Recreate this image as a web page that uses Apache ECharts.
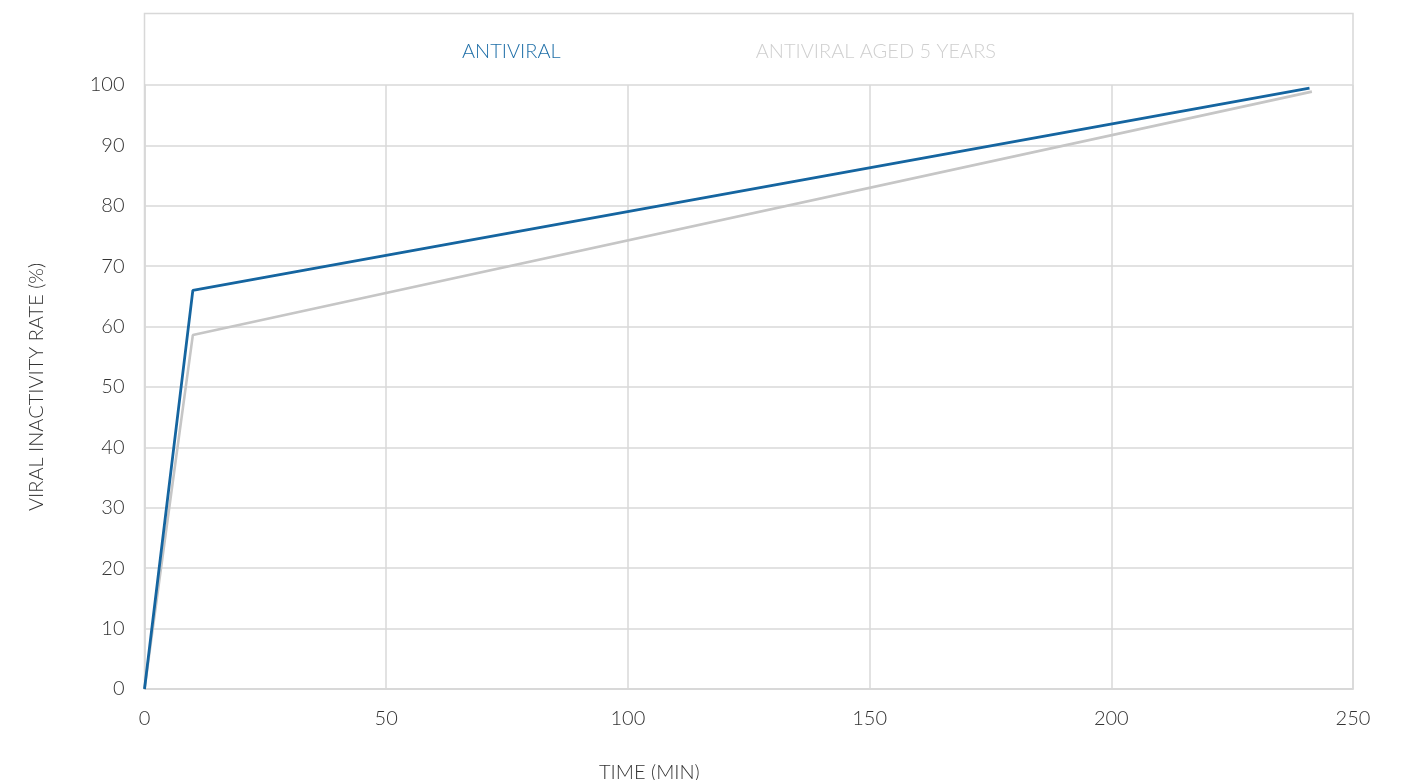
<!DOCTYPE html>
<html>
<head>
<meta charset="utf-8">
<script src="https://cdn.jsdelivr.net/npm/echarts@6/dist/echarts.min.js"></script>
<style>html,body{margin:0;padding:0;background:#fff}#c{width:1403px;height:780px}</style>
</head>
<body>
<div id="c"></div>
<script>
const seriesNames = ['ANTIVIRAL', 'ANTIVIRAL AGED 5 YEARS'];
const antiviral = [[0, 0], [10, 66], [241, 99.5]];
const antiviralAged = [[0, 0], [10, 58.6], [241.5, 98.9]];
const xTicks = [0, 50, 100, 150, 200, 250];
const yTicks = [0, 10, 20, 30, 40, 50, 60, 70, 80, 90, 100];

const FONT = 'Lato, "Noto Sans", sans-serif';
const FW = 300;
const FS = 20;
const chart = echarts.init(document.getElementById('c'));
chart.setOption({
  animation: false,
  graphic: [{
    type: 'rect', silent: true, z: -1,
    shape: {x: 144.5, y: 13.5, width: 1208.5, height: 675.5},
    style: {fill: 'none', stroke: '#d8d8d8', lineWidth: 1.5}
  }],
  title: {
    text: 'TIME (MIN)', left: 594, top: 758,
    textStyle: {fontFamily: FONT, fontSize: FS, fontWeight: FW, color: '#333'}
  },
  legend: {
    data: [
      {name: seriesNames[0], textStyle: {color: '#1f6fa8'}},
      {name: seriesNames[1], textStyle: {color: '#cfcfcf'}}
    ],
    icon: 'none', itemWidth: 0, itemGap: 190,
    left: 452, top: 37,
    textStyle: {fontFamily: FONT, fontSize: FS, fontWeight: FW}
  },
  grid: {left: 144.5, right: 50, top: 85, bottom: 91, containLabel: false},
  xAxis: {
    type: 'value', min: xTicks[0], max: xTicks[xTicks.length - 1], interval: 50,
    axisLine: {show: true, lineStyle: {color: '#d8d8d8', width: 1.5}},
    axisTick: {show: false},
    splitLine: {show: true, lineStyle: {color: '#d8d8d8', width: 1.5}},
    axisLabel: {margin: 20, fontFamily: FONT, fontSize: FS, fontWeight: FW, color: '#333'}
  },
  yAxis: {
    type: 'value', min: yTicks[0], max: yTicks[yTicks.length - 1], interval: 10,
    name: 'VIRAL INACTIVITY RATE (%)', nameLocation: 'middle', nameGap: 98, nameRotate: 90,
    nameTextStyle: {fontFamily: FONT, fontSize: FS, fontWeight: FW, color: '#333'},
    axisLine: {show: true, lineStyle: {color: '#d8d8d8', width: 1.5}},
    axisTick: {show: false},
    splitLine: {show: true, lineStyle: {color: '#d8d8d8', width: 1.5}},
    axisLabel: {margin: 20, fontFamily: FONT, fontSize: FS, fontWeight: FW, color: '#333'}
  },
  series: [
    {name: seriesNames[1], type: 'line', data: antiviralAged, showSymbol: false, symbol: 'none',
     lineStyle: {color: '#c6c6c6', width: 2.6}, itemStyle: {color: '#c6c6c6'}, z: 2},
    {name: seriesNames[0], type: 'line', data: antiviral, showSymbol: false, symbol: 'none',
     lineStyle: {color: '#1565a0', width: 2.8}, itemStyle: {color: '#1565a0'}, z: 3}
  ]
});
</script>
</body>
</html>
